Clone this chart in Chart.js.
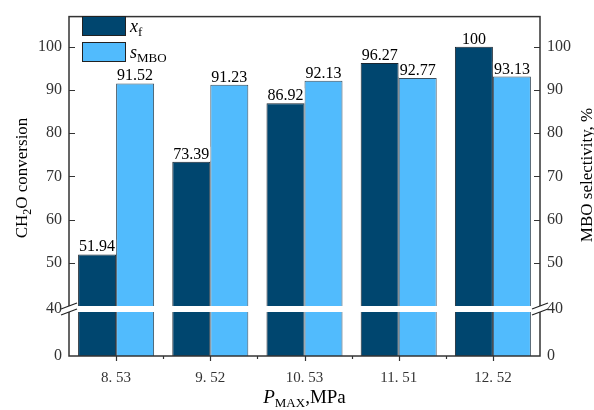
<!DOCTYPE html>
<html>
<head>
<meta charset="utf-8">
<script src="https://cdn.jsdelivr.net/npm/chart.js@4/dist/chart.umd.min.js"></script>
<style>
  html, body { margin: 0; padding: 0; background: #fff; }
  #wrap { width: 594px; height: 410px; }
</style>
</head>
<body>
<div id="wrap"><canvas id="c" width="594" height="410"></canvas></div>
<script>
// Maximum pressure levels (MPa) and the two response series
const pressures = ['8. 53', '9. 52', '10. 53', '11. 51', '12. 52'];
const conversion = [51.94, 73.39, 86.92, 96.27, 100];      // x_f, CH2O conversion
const selectivity = [91.52, 91.23, 92.13, 92.77, 93.13];   // s_MBO, MBO selectivity
const yTicks = [0, 40, 50, 60, 70, 80, 90, 100];
const axisBreakValue = 40;

const SERIF = '"Liberation Serif", "DejaVu Serif", serif';
const DARK = '#00466f';
const LIGHT = '#51bbfd';

// Linear scale with a compressed segment below the break value and a small gap
class BrokenLinearScale extends Chart.LinearScale {
  _geom() {
    const o = this.options.axisBreak;
    const low = o.lowSpan, gap = o.gap;
    const highSpan = (this.bottom - this.top) - low - gap;
    return { low, gap, highSpan, brk: o.value };
  }
  getPixelForValue(value) {
    const g = this._geom();
    if (value < g.brk) return this.bottom - (value - this.min) / (g.brk - this.min) * g.low;
    if (value === g.brk) return this.bottom - g.low - g.gap / 2;
    return this.bottom - g.low - g.gap - (value - g.brk) / (this.max - g.brk) * g.highSpan;
  }
  getValueForPixel(pixel) {
    const g = this._geom();
    const d = this.bottom - pixel;
    if (d <= g.low) return this.min + d / g.low * (g.brk - this.min);
    return g.brk + (d - g.low - g.gap) / g.highSpan * (this.max - g.brk);
  }
}
BrokenLinearScale.id = 'brokenLinear';
BrokenLinearScale.defaults = Chart.LinearScale.defaults;
Chart.register(BrokenLinearScale);

function yAxis(position, width) {
  return {
    type: 'brokenLinear',
    position: position,
    min: 0,
    max: 107,
    axisBreak: { value: axisBreakValue, lowSpan: 44, gap: 6 },
    afterBuildTicks: s => { s.ticks = yTicks.map(v => ({ value: v })); },
    afterFit: s => { s.width = width; },
    grid: { display: false, drawTicks: false },
    border: { display: false },
    ticks: {
      autoSkip: false,
      padding: 7,
      color: '#333',
      font: { family: SERIF, size: 16 }
    }
  };
}

// Draws text runs with italic / subscript parts
function drawRuns(ctx, runs, x, y, align) {
  const widths = runs.map(r => { ctx.font = r.font; return ctx.measureText(r.text).width; });
  const total = widths.reduce((a, b) => a + b, 0);
  let cx = align === 'center' ? x - total / 2 : x;
  runs.forEach((r, i) => {
    ctx.font = r.font;
    ctx.fillText(r.text, cx, y + (r.dy || 0));
    cx += widths[i];
  });
}

const decorations = {
  id: 'decorations',
  afterDatasetsDraw(chart) {
    const ctx = chart.ctx;
    const a = chart.chartArea;
    const y = chart.scales.y;
    const x = chart.scales.x;
    ctx.save();

    // value labels with white backing
    ctx.font = '16px ' + SERIF;
    ctx.textAlign = 'center';
    ctx.textBaseline = 'alphabetic';
    chart.data.datasets.forEach((ds, di) => {
      chart.getDatasetMeta(di).data.forEach((bar, i) => {
        const txt = String(ds.data[i]);
        const w = ctx.measureText(txt).width;
        ctx.fillStyle = '#fff';
        ctx.fillRect(bar.x - w / 2 - 1, bar.y - 15, w + 2, 14);
        ctx.fillStyle = '#000';
        ctx.fillText(txt, bar.x, bar.y - 3);
      });
    });

    // frame
    ctx.strokeStyle = '#333';
    ctx.lineWidth = 1.5;
    ctx.strokeRect(a.left, a.top, a.right - a.left, a.bottom - a.top);

    // inward y ticks
    ctx.lineWidth = 1.2;
    yTicks.filter(v => v > axisBreakValue).forEach(v => {
      const py = Math.round(y.getPixelForValue(v)) + 0.5;
      ctx.beginPath();
      ctx.moveTo(a.left, py); ctx.lineTo(a.left + 6, py);
      ctx.moveTo(a.right, py); ctx.lineTo(a.right - 6, py);
      ctx.stroke();
    });

    // outward x ticks: major at categories, minor between
    const n = pressures.length;
    const cw = (a.right - a.left) / n;
    for (let i = 0; i < n; i++) {
      const cx = Math.round(x.getPixelForValue(i)) + 0.5;
      ctx.beginPath(); ctx.moveTo(cx, a.bottom); ctx.lineTo(cx, a.bottom + 5); ctx.stroke();
      if (i > 0) {
        const bx = Math.round(a.left + i * cw) + 0.5;
        ctx.beginPath(); ctx.moveTo(bx, a.bottom); ctx.lineTo(bx, a.bottom + 3); ctx.stroke();
      }
    }

    // axis break band and slashes
    const gTop = y.getPixelForValue(axisBreakValue + 0.001);
    const gBot = y.getPixelForValue(axisBreakValue - 0.001);
    ctx.fillStyle = '#fff';
    ctx.fillRect(a.left - 1, gTop, a.right - a.left + 2, gBot - gTop);
    ctx.strokeStyle = '#222';
    ctx.lineWidth = 1.2;
    [a.left, a.right].forEach(ax => {
      [gTop, gBot].forEach(gy => {
        ctx.beginPath();
        ctx.moveTo(ax - 8, gy + 3);
        ctx.lineTo(ax + 8, gy - 3);
        ctx.stroke();
      });
    });

    // legend
    const items = [
      { ds: chart.data.datasets[0], runs: [
        { text: 'x', font: 'italic 18px ' + SERIF },
        { text: 'f', font: '13px ' + SERIF, dy: 4 }], y: 16 },
      { ds: chart.data.datasets[1], runs: [
        { text: 's', font: 'italic 18px ' + SERIF },
        { text: 'MBO', font: '13px ' + SERIF, dy: 4 }], y: 42 }
    ];
    ctx.textAlign = 'left';
    items.forEach(it => {
      ctx.fillStyle = it.ds.backgroundColor;
      ctx.fillRect(82.5, it.y + 0.5, 43, 19);
      ctx.strokeStyle = '#222';
      ctx.lineWidth = 1;
      ctx.strokeRect(82.5, it.y + 0.5, 43, 19);
      ctx.fillStyle = '#000';
      drawRuns(ctx, it.runs, 130, it.y + 16, 'left');
    });

    ctx.restore();
  },
  afterDraw(chart) {
    const ctx = chart.ctx;
    const a = chart.chartArea;
    ctx.save();
    ctx.fillStyle = '#000';
    ctx.textBaseline = 'alphabetic';

    // x axis title
    drawRuns(ctx, [
      { text: 'P', font: 'italic 19px ' + SERIF },
      { text: 'MAX', font: '13px ' + SERIF, dy: 4 },
      { text: ',MPa', font: '19px ' + SERIF }
    ], (a.left + a.right) / 2, 403, 'center');

    // left y title
    ctx.save();
    ctx.translate(27, 178);
    ctx.rotate(-Math.PI / 2);
    drawRuns(ctx, [
      { text: 'CH', font: '17px ' + SERIF },
      { text: '2', font: '12px ' + SERIF, dy: 4 },
      { text: 'O conversion', font: '17px ' + SERIF }
    ], 0, 0, 'center');
    ctx.restore();

    // right y title
    ctx.save();
    ctx.translate(592, 175);
    ctx.rotate(-Math.PI / 2);
    drawRuns(ctx, [{ text: 'MBO selectivity, %', font: '17px ' + SERIF }], 0, 0, 'center');
    ctx.restore();

    ctx.restore();
  }
};

new Chart(document.getElementById('c'), {
  type: 'bar',
  data: {
    labels: pressures,
    datasets: [
      {
        label: 'x_f',
        data: conversion,
        yAxisID: 'y',
        backgroundColor: DARK,
        borderColor: '#1b2630',
        borderWidth: 1
      },
      {
        label: 's_MBO',
        data: selectivity,
        yAxisID: 'y2',
        backgroundColor: LIGHT,
        borderColor: '#3a4f5e',
        borderWidth: 1
      }
    ]
  },
  options: {
    responsive: false,
    animation: false,
    devicePixelRatio: 1,
    layout: { padding: { top: 13, left: 0, right: 0, bottom: 0 } },
    datasets: { bar: { barPercentage: 1, categoryPercentage: 0.807 } },
    plugins: { legend: { display: false }, tooltip: { enabled: false } },
    scales: {
      x: {
        afterFit: s => { s.height = 54; },
        grid: { display: false, drawTicks: false },
        border: { display: false },
        ticks: { padding: 13, color: '#333', font: { family: SERIF, size: 15 } }
      },
      y: yAxis('left', 69),
      y2: yAxis('right', 54)
    }
  },
  plugins: [decorations]
});
</script>
</body>
</html>
